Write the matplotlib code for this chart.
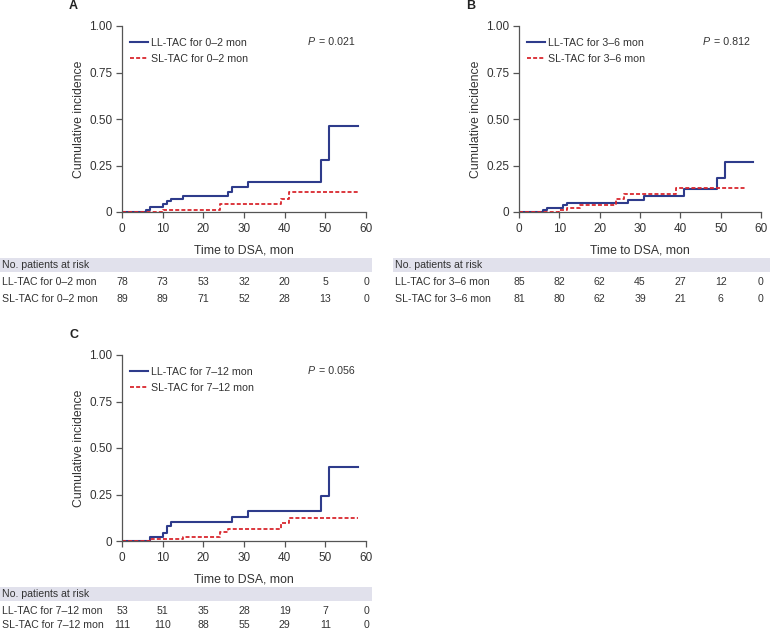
import matplotlib
matplotlib.use("Agg")
import matplotlib.pyplot as plt
import matplotlib.transforms as mtransforms
from matplotlib.patches import Rectangle

plt.rcParams['font.family'] = ['Liberation Sans', 'DejaVu Sans']

# ---------------- data ----------------
x_ticks = [0, 10, 20, 30, 40, 50, 60]
y_ticks = [0, 0.25, 0.50, 0.75, 1.00]
y_ticklabels = ["0", "0.25", "0.50", "0.75", "1.00"]

# Panel A (0-2 mon)
a_ll_t = [0, 6, 7, 10, 11, 12, 15, 26, 27, 31, 49, 51, 58]
a_ll_y = [0, 0.012, 0.027, 0.045, 0.058, 0.070, 0.085, 0.110, 0.133, 0.160, 0.280, 0.462, 0.462]
a_sl_t = [0, 10, 24, 39, 41, 58]
a_sl_y = [0, 0.011, 0.042, 0.070, 0.108, 0.108]
a_risk_ll = [78, 73, 53, 32, 20, 5, 0]
a_risk_sl = [89, 89, 71, 52, 28, 13, 0]

# Panel B (3-6 mon)
b_ll_t = [0, 6, 7, 11, 12, 27, 31, 41, 49, 51, 58]
b_ll_y = [0, 0.011, 0.023, 0.038, 0.050, 0.065, 0.086, 0.122, 0.182, 0.270, 0.270]
b_sl_t = [0, 10, 12, 15, 24, 26, 39, 56]
b_sl_y = [0, 0.010, 0.022, 0.036, 0.070, 0.095, 0.128, 0.128]
b_risk_ll = [85, 82, 62, 45, 27, 12, 0]
b_risk_sl = [81, 80, 62, 39, 21, 6, 0]

# Panel C (7-12 mon)
c_ll_t = [0, 7, 10, 11, 12, 27, 31, 49, 51, 58]
c_ll_y = [0, 0.020, 0.041, 0.080, 0.103, 0.130, 0.159, 0.241, 0.396, 0.396]
c_sl_t = [0, 7, 15, 24, 26, 39, 41, 58]
c_sl_y = [0, 0.013, 0.023, 0.048, 0.064, 0.095, 0.125, 0.125]
c_risk_ll = [53, 51, 35, 28, 19, 7, 0]
c_risk_sl = [111, 110, 88, 55, 29, 11, 0]

panels = [
    dict(label="A", grp="0\u20132 mon", p="0.021",
         ll=(a_ll_t, a_ll_y), sl=(a_sl_t, a_sl_y), rll=a_risk_ll, rsl=a_risk_sl,
         ax=(122, 26, 366, 212), lab=(69, 6),
         band=(0, 372, 258, 272), rows=(265, 282.5, 298.5)),
    dict(label="B", grp="3\u20136 mon", p="0.812",
         ll=(b_ll_t, b_ll_y), sl=(b_sl_t, b_sl_y), rll=b_risk_ll, rsl=b_risk_sl,
         ax=(519, 26, 761, 212), lab=(466, 6),
         band=(393, 770, 258, 272), rows=(265, 282.5, 298.5)),
    dict(label="C", grp="7\u201312 mon", p="0.056",
         ll=(c_ll_t, c_ll_y), sl=(c_sl_t, c_sl_y), rll=c_risk_ll, rsl=c_risk_sl,
         ax=(122, 355, 366, 541), lab=(69, 335),
         band=(0, 372, 587, 601), rows=(594, 611, 625.5)),
]

W, H = 770, 631
fig = plt.figure(figsize=(W / 100, H / 100), dpi=100)

LL_COLOR = "#2e3b8b"
SL_COLOR = "#d9272e"
SPINE = "#555555"
TXT = "#333333"
TBL_FS = 7.6

def fx(px):
    return px / W

def fy(py):
    return 1 - py / H

for p in panels:
    l, t, r, b = p["ax"]
    ax = fig.add_axes([fx(l), fy(b), fx(r) - fx(l), (b - t) / H])
    ax.step(p["ll"][0], p["ll"][1], where="post", color=LL_COLOR, lw=1.5,
            label="LL-TAC for " + p["grp"])
    ax.step(p["sl"][0], p["sl"][1], where="post", color=SL_COLOR, lw=1.3,
            ls=(0, (2.2, 1.2)), label="SL-TAC for " + p["grp"])
    ax.set_xlim(0, 60)
    ax.set_ylim(0, 1.0)
    ax.set_xticks(x_ticks)
    ax.set_yticks(y_ticks)
    ax.set_yticklabels(y_ticklabels)
    for s in ["top", "right"]:
        ax.spines[s].set_visible(False)
    for s in ["left", "bottom"]:
        ax.spines[s].set_color(SPINE)
        ax.spines[s].set_linewidth(0.9)
    ax.spines["bottom"].set_zorder(0)
    ax.tick_params(axis="both", colors=SPINE, labelcolor=TXT, labelsize=8.5,
                   length=4, width=0.9, pad=3)
    ax.tick_params(axis="x", pad=4)
    ax.set_xlabel("Time to DSA, mon", fontsize=8.8, color=TXT, labelpad=6.5)
    ax.set_ylabel("Cumulative incidence", fontsize=8.8, color=TXT, labelpad=3)
    ax.patch.set_alpha(0)
    ax.legend(loc="upper left", bbox_to_anchor=(0.0, 0.98), frameon=False,
              fontsize=7.7, handlelength=1.7, handletextpad=0.3,
              labelspacing=0.55, borderaxespad=0.35, labelcolor=TXT)
    ax.text(0.955, 0.915, "= " + p["p"], transform=ax.transAxes,
            ha="right", va="center", fontsize=7.7, color=TXT)
    ax.annotate("P", xy=(0.955, 0.915), xycoords="axes fraction",
                xytext=(-29, 0), textcoords="offset points",
                ha="right", va="center", fontsize=7.7, color=TXT, style="italic")
    fig.text(fx(p["lab"][0]), fy(p["lab"][1]), p["label"], fontsize=9,
             fontweight="bold", ha="left", va="center", color="#222222")

    # at-risk table
    x0, x1, y0, y1 = p["band"]
    fig.patches.append(Rectangle((fx(x0), fy(y1)), fx(x1) - fx(x0), (y1 - y0) / H,
                                 transform=fig.transFigure, facecolor="#e1e1ec",
                                 edgecolor="none", zorder=0))
    hdr_y, ll_y, sl_y = p["rows"]
    fig.text(fx(x0 + 2), fy(hdr_y), "No. patients at risk", fontsize=TBL_FS,
             ha="left", va="center", color=TXT)
    fig.text(fx(x0 + 2), fy(ll_y), "LL-TAC for " + p["grp"], fontsize=TBL_FS,
             ha="left", va="center", color=TXT)
    fig.text(fx(x0 + 2), fy(sl_y), "SL-TAC for " + p["grp"], fontsize=TBL_FS,
             ha="left", va="center", color=TXT)
    trans = mtransforms.blended_transform_factory(ax.transData, fig.transFigure)
    for xt, v1, v2 in zip(x_ticks, p["rll"], p["rsl"]):
        fig.text(xt, fy(ll_y), str(v1), transform=trans, fontsize=TBL_FS,
                 ha="center", va="center", color=TXT)
        fig.text(xt, fy(sl_y), str(v2), transform=trans, fontsize=TBL_FS,
                 ha="center", va="center", color=TXT)

fig.savefig("out.png", dpi=100, facecolor="white")
